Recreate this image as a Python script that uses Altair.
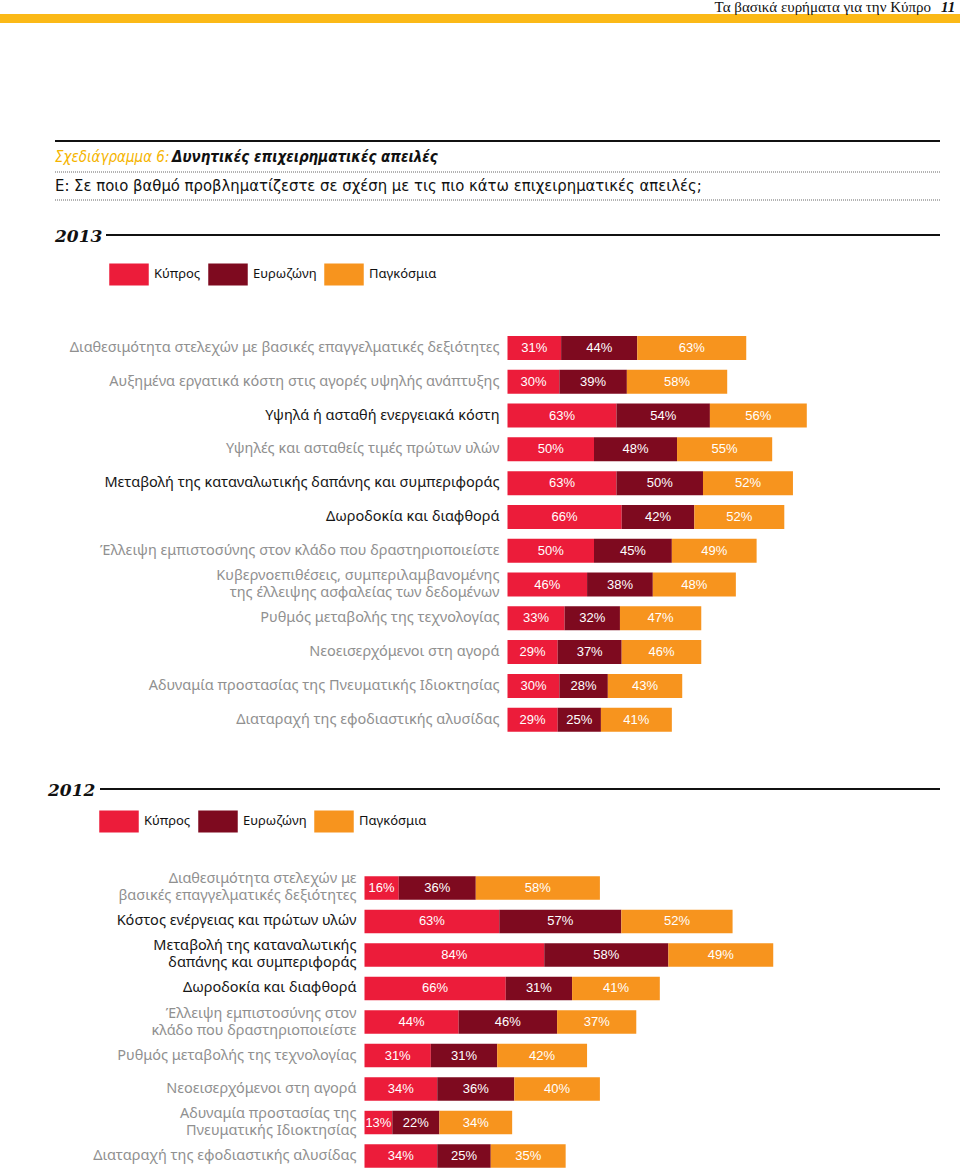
import altair as alt
import pandas as pd

regions = ["Κύπρος", "Ευρωζώνη", "Παγκόσμια"]
colors = ["#EC1C3A", "#7E0A1F", "#F7941E"]

cats13 = [
    "Διαθεσιμότητα στελεχών με βασικές επαγγελματικές δεξιότητες",
    "Αυξημένα εργατικά κόστη στις αγορές υψηλής ανάπτυξης",
    "Υψηλά ή ασταθή ενεργειακά κόστη",
    "Υψηλές και ασταθείς τιμές πρώτων υλών",
    "Μεταβολή της καταναλωτικής δαπάνης και συμπεριφοράς",
    "Δωροδοκία και διαφθορά",
    "Έλλειψη εμπιστοσύνης στον κλάδο που δραστηριοποιείστε",
    "Κυβερνοεπιθέσεις, συμπεριλαμβανομένης\nτης έλλειψης ασφαλείας των δεδομένων",
    "Ρυθμός μεταβολής της τεχνολογίας",
    "Νεοεισερχόμενοι στη αγορά",
    "Αδυναμία προστασίας της Πνευματικής Ιδιοκτησίας",
    "Διαταραχή της εφοδιαστικής αλυσίδας",
]
cy13 = [31, 30, 63, 50, 63, 66, 50, 46, 33, 29, 30, 29]
ez13 = [44, 39, 54, 48, 50, 42, 45, 38, 32, 37, 28, 25]
gl13 = [63, 58, 56, 55, 52, 52, 49, 48, 47, 46, 43, 41]
dark13 = [cats13[2], cats13[4], cats13[5]]

cats12 = [
    "Διαθεσιμότητα στελεχών με\nβασικές επαγγελματικές δεξιότητες",
    "Κόστος ενέργειας και πρώτων υλών",
    "Μεταβολή της καταναλωτικής\nδαπάνης και συμπεριφοράς",
    "Δωροδοκία και διαφθορά",
    "Έλλειψη εμπιστοσύνης στον\nκλάδο που δραστηριοποιείστε",
    "Ρυθμός μεταβολής της τεχνολογίας",
    "Νεοεισερχόμενοι στη αγορά",
    "Αδυναμία προστασίας της\nΠνευματικής Ιδιοκτησίας",
    "Διαταραχή της εφοδιαστικής αλυσίδας",
]
cy12 = [16, 63, 84, 66, 44, 31, 34, 13, 34]
ez12 = [36, 57, 58, 31, 46, 31, 36, 22, 25]
gl12 = [58, 52, 49, 41, 37, 42, 40, 34, 35]
dark12 = [cats12[1], cats12[2], cats12[3]]

page_header = "Τα βασικά ευρήματα για την Κύπρο"
page_no = "11"
fig_label = "Σχεδιάγραμμα 6:"
fig_title = "Δυνητικές επιχειρηματικές απειλές"
question = "Ε: Σε ποιο βαθμό προβληματίζεστε σε σχέση με τις πιο κάτω επιχειρηματικές απειλές;"

LABEL_FONT = "Noto Sans"
VALUE_FONT = "Liberation Sans"
NARROW = "Liberation Sans Narrow, DejaVu Sans Condensed, Liberation Sans"
SERIF = "Liberation Serif"
LINE_H = 17


def long_form(cats, a, b, c):
    rows = []
    for i, cat in enumerate(cats):
        for j, (r, v) in enumerate(zip(regions, (a[i], b[i], c[i]))):
            rows.append({"cat": cat, "region": r, "ord": j, "value": v, "pct": f"{v}%"})
    return pd.DataFrame(rows)


def section(cats, dark, df, x_range, y_range, pad_inner, legend_x, legend_y):
    y = alt.Y("cat:N", scale=alt.Scale(domain=cats, range=y_range,
                                       paddingInner=pad_inner, paddingOuter=pad_inner / 2),
              axis=None)
    xs = alt.Scale(domain=[0, 200], range=x_range)
    base = alt.Chart(df).transform_stack(
        stack="value", as_=["x0", "x1"], groupby=["cat"],
        sort=[alt.SortField("ord", order="ascending")])
    bars = base.mark_bar().encode(
        x=alt.X("x0:Q", scale=xs, axis=None),
        x2="x1:Q",
        y=y,
        color=alt.Color("region:N", scale=alt.Scale(domain=regions, range=colors),
                        legend=alt.Legend(orient="none", legendX=legend_x, legendY=legend_y,
                                          direction="horizontal", title=None,
                                          symbolType="M-1,-0.56H1V0.56H-1Z", symbolSize=1560,
                                          symbolStrokeWidth=0, labelFont=LABEL_FONT,
                                          labelFontSize=13, labelColor="#111",
                                          labelOffset=5, columnPadding=7, padding=0)),
    )
    vals = base.transform_calculate(mid="(datum.x0 + datum.x1) / 2").mark_text(
        color="white", font=VALUE_FONT, fontSize=13).encode(
        x=alt.X("mid:Q", scale=xs, axis=None), y=y, text="pct:N")

    label_color = alt.condition(alt.FieldOneOfPredicate(field="cat", oneOf=dark),
                                alt.value("#161616"), alt.value("#909090"))
    single = [c for c in cats if "\n" not in c]
    multi = [c for c in cats if "\n" in c]
    layers = [bars, vals]
    for group, dy in ((single, 0), (multi, -LINE_H / 2)):
        if not group:
            continue
        layers.append(alt.Chart(pd.DataFrame({"cat": group})).mark_text(
            align="right", baseline="middle", lineBreak="\n", lineHeight=LINE_H, dy=dy,
            font=LABEL_FONT, fontSize=14.5).encode(
            x=alt.value(x_range[0] - 8), y=y, text="cat:N", color=label_color))
    return alt.layer(*layers)


one = pd.DataFrame({"k": [0]})


def txt(t, x, y, **kw):
    return alt.Chart(pd.DataFrame({"t": [t]})).mark_text(baseline="middle", **kw).encode(
        x=alt.value(x), y=alt.value(y), text="t:N")


def rule(x1, x2, y, **kw):
    return alt.Chart(one).mark_rule(**kw).encode(x=alt.value(x1), x2=alt.value(x2), y=alt.value(y))


deco = [
    rule(0, 960, 18.5, color="#FBB917", strokeWidth=9),
    txt(page_header, 931, 7, align="right", font=SERIF, fontSize=15, color="#111"),
    txt(page_no, 941, 7, align="left", font=SERIF, fontSize=15, fontWeight="bold",
        fontStyle="italic", color="#111"),
    rule(55, 940, 141, color="#111", strokeWidth=2),
    txt(fig_label, 55, 157, align="left", font=NARROW, fontSize=15, fontStyle="italic",
        color="#F5B400"),
    txt(fig_title, 172, 157, align="left", font=NARROW, fontSize=15, fontStyle="italic",
        fontWeight="bold", color="#111"),
    rule(55, 940, 172, color="#666", strokeWidth=1, strokeDash=[1, 1]),
    txt(question, 55, 186, align="left", font=NARROW, fontSize=16.5, color="#111"),
    rule(55, 940, 200, color="#666", strokeWidth=1, strokeDash=[1, 1]),
    txt("2013", 55, 237, align="left", font="DejaVu Serif", fontSize=17, fontWeight="bold",
        fontStyle="italic", color="#111"),
    rule(106, 940, 235, color="#111", strokeWidth=2),
    txt("2012", 48, 791, align="left", font="DejaVu Serif", fontSize=17, fontWeight="bold",
        fontStyle="italic", color="#111"),
    rule(100, 940, 789, color="#111", strokeWidth=2),
]

sec13 = section(cats13, dark13, long_form(cats13, cy13, ez13, gl13),
                [507.5, 507.5 + 346], [331.1, 736.6], 0.29, 109, 254)
sec12 = section(cats12, dark12, long_form(cats12, cy12, ez12, gl12),
                [364.5, 364.5 + 428], [871.2, 1172.8], 0.3, 99, 801)

chart = alt.layer(*deco, sec13, sec12).resolve_scale(
    x="independent", y="independent", color="independent"
).properties(
    width=960, height=1174, padding=0,
    autosize=alt.AutoSizeParams(type="none"),
).configure_view(stroke=None)

chart.save("out.html", embed_options={"renderer": "svg", "actions": False})
